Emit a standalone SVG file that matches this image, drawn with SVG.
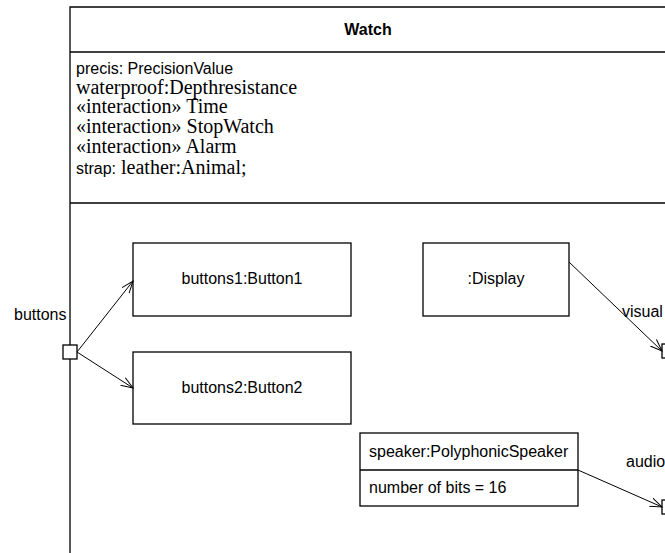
<svg xmlns="http://www.w3.org/2000/svg" width="665" height="553" viewBox="0 0 665 553">
  <style>
    .box { fill: #fff; stroke: #000; stroke-width: 1.3; }
    .line { fill: none; stroke: #000; stroke-width: 1.3; }
    .conn { fill: none; stroke: #000; stroke-width: 1; }
    .sans { font-family: "Liberation Sans", Arial, sans-serif; font-size: 16px; fill: #000; }
    .serif { font-family: "Liberation Serif", "Times New Roman", serif; font-size: 20px; fill: #000; }
    .bold { font-weight: bold; }
  </style>
  <defs>
    <marker id="open" viewBox="0 0 13 12" refX="12" refY="6" markerWidth="13" markerHeight="12" markerUnits="userSpaceOnUse" orient="auto">
      <path d="M0,1.5 L12,6 L0,10.5" fill="none" stroke="#000" stroke-width="1"/>
    </marker>
  </defs>

  <rect width="665" height="553" fill="#fff"/>

  <!-- Watch block: frame, name and attribute compartment -->
  <g id="watch">
    <path class="line" d="M672,7 L70,7 L70,553"/>
    <line class="line" x1="70" y1="52" x2="672" y2="52"/>
    <line class="line" x1="70" y1="203" x2="672" y2="203"/>
    <text class="sans bold" x="368" y="35" text-anchor="middle">Watch</text>
    <text class="sans" x="76" y="74">precis: PrecisionValue</text>
    <text class="serif" x="76" y="94">waterproof:Depthresistance</text>
    <text class="serif" x="76" y="113">«interaction» Time</text>
    <text class="serif" x="76" y="133">«interaction» StopWatch</text>
    <text class="serif" x="76" y="153">«interaction» Alarm</text>
    <text x="76" y="174"><tspan class="sans">strap:</tspan><tspan class="serif"> leather:Animal;</tspan></text>
  </g>

  <g id="buttons1">
    <rect class="box" x="133" y="243" width="218" height="73"/>
    <text class="sans" x="242" y="284" text-anchor="middle">buttons1:Button1</text>
  </g>

  <g id="buttons2">
    <rect class="box" x="133" y="352" width="218" height="72"/>
    <text class="sans" x="242" y="393" text-anchor="middle">buttons2:Button2</text>
  </g>

  <g id="display">
    <rect class="box" x="423" y="243" width="146" height="73"/>
    <text class="sans" x="496" y="284" text-anchor="middle">:Display</text>
  </g>

  <g id="speaker">
    <rect class="box" x="360" y="433" width="218" height="73"/>
    <line class="line" x1="360" y1="470" x2="578" y2="470"/>
    <text class="sans" x="369" y="457">speaker:PolyphonicSpeaker</text>
    <text class="sans" x="369" y="493">number of bits = 16</text>
  </g>

  <!-- ports on the Watch boundary -->
  <g id="port-buttons">
    <rect class="box" x="63" y="345" width="14" height="14" stroke-width="1"/>
    <text class="sans" x="14" y="320">buttons</text>
  </g>
  <g id="port-visual">
    <rect class="box" x="662" y="344" width="14" height="14" stroke-width="1"/>
    <text class="sans" x="622" y="317">visual</text>
  </g>
  <g id="port-audio">
    <rect class="box" x="662" y="500" width="14" height="14" stroke-width="1"/>
    <text class="sans" x="626" y="467">audio</text>
  </g>

  <g id="connectors">
    <line class="conn" x1="77" y1="352" x2="133" y2="281" marker-end="url(#open)"/>
    <line class="conn" x1="77" y1="352" x2="133" y2="388" marker-end="url(#open)"/>
    <line class="conn" x1="569" y1="262" x2="662" y2="351" marker-end="url(#open)"/>
    <line class="conn" x1="578" y1="470" x2="662" y2="507" marker-end="url(#open)"/>
  </g>
</svg>
